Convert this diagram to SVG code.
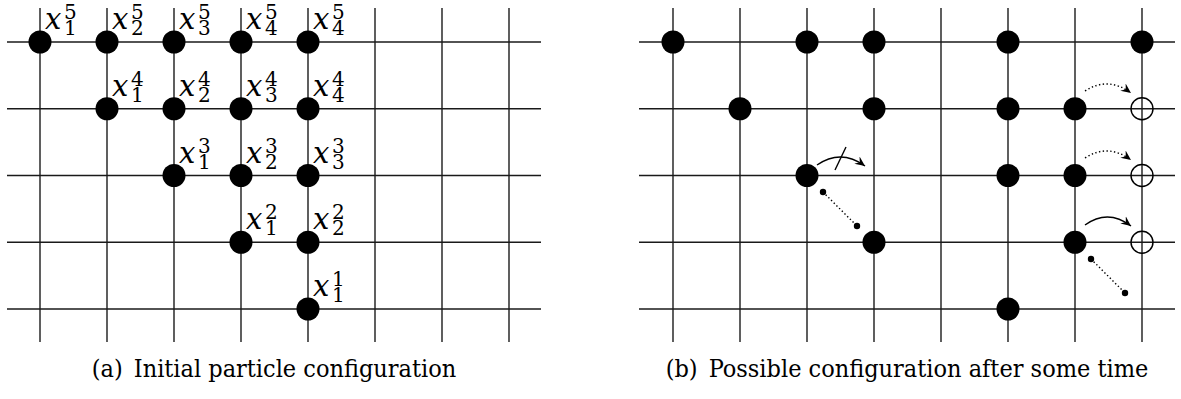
<svg xmlns="http://www.w3.org/2000/svg" width="1181" height="399" viewBox="0 0 1181 399">
<style>
.grid line{stroke:#1a1a1a;stroke-width:1.4}
.p{fill:#000}
.e{fill:none;stroke:#000;stroke-width:1.4}
.lb{font-family:'DejaVu Serif',serif;font-size:20px;fill:#000}
.mx{font-style:italic;font-size:29px}
.cap{font-family:'DejaVu Serif',serif;font-stretch:condensed;font-size:25px;fill:#000}
.arc{fill:none;stroke:#000;stroke-width:1.4}
.dot{stroke-dasharray:1.4 2.4}
.sd{fill:#000}
</style>
<defs>
<marker id="ah" markerUnits="userSpaceOnUse" viewBox="-10 -5 11 10" refX="0" refY="0" markerWidth="11" markerHeight="10" orient="auto">
<path d="M0,0 L-10,-4.5 L-6.5,0 L-10,4.5 Z" fill="#000"/>
</marker>
</defs>
<g id="grid-a" class="grid">
<line x1="7" y1="42" x2="541" y2="42"/>
<line x1="7" y1="108.75" x2="541" y2="108.75"/>
<line x1="7" y1="175.5" x2="541" y2="175.5"/>
<line x1="7" y1="242.25" x2="541" y2="242.25"/>
<line x1="7" y1="309" x2="541" y2="309"/>
<line x1="40" y1="8" x2="40" y2="342"/>
<line x1="107" y1="8" x2="107" y2="342"/>
<line x1="174" y1="8" x2="174" y2="342"/>
<line x1="241" y1="8" x2="241" y2="342"/>
<line x1="308" y1="8" x2="308" y2="342"/>
<line x1="375" y1="8" x2="375" y2="342"/>
<line x1="442" y1="8" x2="442" y2="342"/>
<line x1="509" y1="8" x2="509" y2="342"/>
</g>
<g id="grid-b" class="grid">
<line x1="639" y1="42" x2="1175" y2="42"/>
<line x1="639" y1="108.75" x2="1175" y2="108.75"/>
<line x1="639" y1="175.5" x2="1175" y2="175.5"/>
<line x1="639" y1="242.25" x2="1175" y2="242.25"/>
<line x1="639" y1="309" x2="1175" y2="309"/>
<line x1="673" y1="8" x2="673" y2="342"/>
<line x1="740" y1="8" x2="740" y2="342"/>
<line x1="807" y1="8" x2="807" y2="342"/>
<line x1="874" y1="8" x2="874" y2="342"/>
<line x1="941" y1="8" x2="941" y2="342"/>
<line x1="1008" y1="8" x2="1008" y2="342"/>
<line x1="1075" y1="8" x2="1075" y2="342"/>
<line x1="1142" y1="8" x2="1142" y2="342"/>
</g>
<!-- panel (a) particles -->
<g id="a-x1-5"><circle class="p" cx="40" cy="42" r="11.5"/><text class="lb" x="45" y="29"><tspan class="mx">x</tspan><tspan x="64" y="19">5</tspan><tspan x="64" y="35">1</tspan></text></g>
<g id="a-x2-5"><circle class="p" cx="107" cy="42" r="11.5"/><text class="lb" x="112" y="29"><tspan class="mx">x</tspan><tspan x="131" y="19">5</tspan><tspan x="131" y="35">2</tspan></text></g>
<g id="a-x3-5"><circle class="p" cx="174" cy="42" r="11.5"/><text class="lb" x="179" y="29"><tspan class="mx">x</tspan><tspan x="198" y="19">5</tspan><tspan x="198" y="35">3</tspan></text></g>
<g id="a-x4-5"><circle class="p" cx="241" cy="42" r="11.5"/><text class="lb" x="246" y="29"><tspan class="mx">x</tspan><tspan x="265" y="19">5</tspan><tspan x="265" y="35">4</tspan></text></g>
<g id="a-x5-5"><circle class="p" cx="308" cy="42" r="11.5"/><text class="lb" x="313" y="29"><tspan class="mx">x</tspan><tspan x="332" y="19">5</tspan><tspan x="332" y="35">4</tspan></text></g>
<g id="a-x1-4"><circle class="p" cx="107" cy="108.75" r="11.5"/><text class="lb" x="112" y="95.75"><tspan class="mx">x</tspan><tspan x="131" y="85.75">4</tspan><tspan x="131" y="101.75">1</tspan></text></g>
<g id="a-x2-4"><circle class="p" cx="174" cy="108.75" r="11.5"/><text class="lb" x="179" y="95.75"><tspan class="mx">x</tspan><tspan x="198" y="85.75">4</tspan><tspan x="198" y="101.75">2</tspan></text></g>
<g id="a-x3-4"><circle class="p" cx="241" cy="108.75" r="11.5"/><text class="lb" x="246" y="95.75"><tspan class="mx">x</tspan><tspan x="265" y="85.75">4</tspan><tspan x="265" y="101.75">3</tspan></text></g>
<g id="a-x4-4"><circle class="p" cx="308" cy="108.75" r="11.5"/><text class="lb" x="313" y="95.75"><tspan class="mx">x</tspan><tspan x="332" y="85.75">4</tspan><tspan x="332" y="101.75">4</tspan></text></g>
<g id="a-x1-3"><circle class="p" cx="174" cy="175.5" r="11.5"/><text class="lb" x="179" y="162.5"><tspan class="mx">x</tspan><tspan x="198" y="152.5">3</tspan><tspan x="198" y="168.5">1</tspan></text></g>
<g id="a-x2-3"><circle class="p" cx="241" cy="175.5" r="11.5"/><text class="lb" x="246" y="162.5"><tspan class="mx">x</tspan><tspan x="265" y="152.5">3</tspan><tspan x="265" y="168.5">2</tspan></text></g>
<g id="a-x3-3"><circle class="p" cx="308" cy="175.5" r="11.5"/><text class="lb" x="313" y="162.5"><tspan class="mx">x</tspan><tspan x="332" y="152.5">3</tspan><tspan x="332" y="168.5">3</tspan></text></g>
<g id="a-x1-2"><circle class="p" cx="241" cy="242.25" r="11.5"/><text class="lb" x="246" y="229.25"><tspan class="mx">x</tspan><tspan x="265" y="219.25">2</tspan><tspan x="265" y="235.25">1</tspan></text></g>
<g id="a-x2-2"><circle class="p" cx="308" cy="242.25" r="11.5"/><text class="lb" x="313" y="229.25"><tspan class="mx">x</tspan><tspan x="332" y="219.25">2</tspan><tspan x="332" y="235.25">2</tspan></text></g>
<g id="a-x1-1"><circle class="p" cx="308" cy="309" r="11.5"/><text class="lb" x="313" y="296"><tspan class="mx">x</tspan><tspan x="332" y="286">1</tspan><tspan x="332" y="302">1</tspan></text></g>
<!-- panel (b) particles -->
<g id="b-r0c0"><circle class="p" cx="673" cy="42" r="11.5"/></g>
<g id="b-r0c2"><circle class="p" cx="807" cy="42" r="11.5"/></g>
<g id="b-r0c3"><circle class="p" cx="874" cy="42" r="11.5"/></g>
<g id="b-r0c5"><circle class="p" cx="1008" cy="42" r="11.5"/></g>
<g id="b-r0c7"><circle class="p" cx="1142" cy="42" r="11.5"/></g>
<g id="b-r1c1"><circle class="p" cx="740" cy="108.75" r="11.5"/></g>
<g id="b-r1c3"><circle class="p" cx="874" cy="108.75" r="11.5"/></g>
<g id="b-r1c5"><circle class="p" cx="1008" cy="108.75" r="11.5"/></g>
<g id="b-r1c6"><circle class="p" cx="1075" cy="108.75" r="11.5"/></g>
<g id="b-r1c7"><circle class="e" cx="1142" cy="108.75" r="11"/></g>
<g id="b-r2c2"><circle class="p" cx="807" cy="175.5" r="11.5"/></g>
<g id="b-r2c5"><circle class="p" cx="1008" cy="175.5" r="11.5"/></g>
<g id="b-r2c6"><circle class="p" cx="1075" cy="175.5" r="11.5"/></g>
<g id="b-r2c7"><circle class="e" cx="1142" cy="175.5" r="11"/></g>
<g id="b-r3c3"><circle class="p" cx="874" cy="242.25" r="11.5"/></g>
<g id="b-r3c6"><circle class="p" cx="1075" cy="242.25" r="11.5"/></g>
<g id="b-r3c7"><circle class="e" cx="1142" cy="242.25" r="11"/></g>
<g id="b-r4c5"><circle class="p" cx="1008" cy="309" r="11.5"/></g>
<!-- connectors -->
<g id="connectors">
<path class="arc" d="M817,165 Q841,148.5 865,166" marker-end="url(#ah)"/>
<line class="arc" x1="835" y1="170" x2="846" y2="147"/>
<path class="arc dot" d="M1085,91 Q1108,76 1131,93" marker-end="url(#ah)"/>
<path class="arc dot" d="M1085,158 Q1108,143 1131,160" marker-end="url(#ah)"/>
<path class="arc" d="M1085,225 Q1108,208.5 1131,226" marker-end="url(#ah)"/>
<line class="arc dot" x1="823" y1="192" x2="857" y2="226"/>
<circle class="sd" cx="823" cy="192" r="3.2"/>
<circle class="sd" cx="857" cy="226" r="3.2"/>
<line class="arc dot" x1="1091" y1="259" x2="1125" y2="293"/>
<circle class="sd" cx="1091" cy="259" r="3.2"/>
<circle class="sd" cx="1125" cy="293" r="3.2"/>
</g>
<text class="cap" x="274" y="377" text-anchor="middle">(a)<tspan dx="11">Initial particle configuration</tspan></text>
<text class="cap" x="907" y="377" text-anchor="middle">(b)<tspan dx="11">Possible configuration after some time</tspan></text>
</svg>
